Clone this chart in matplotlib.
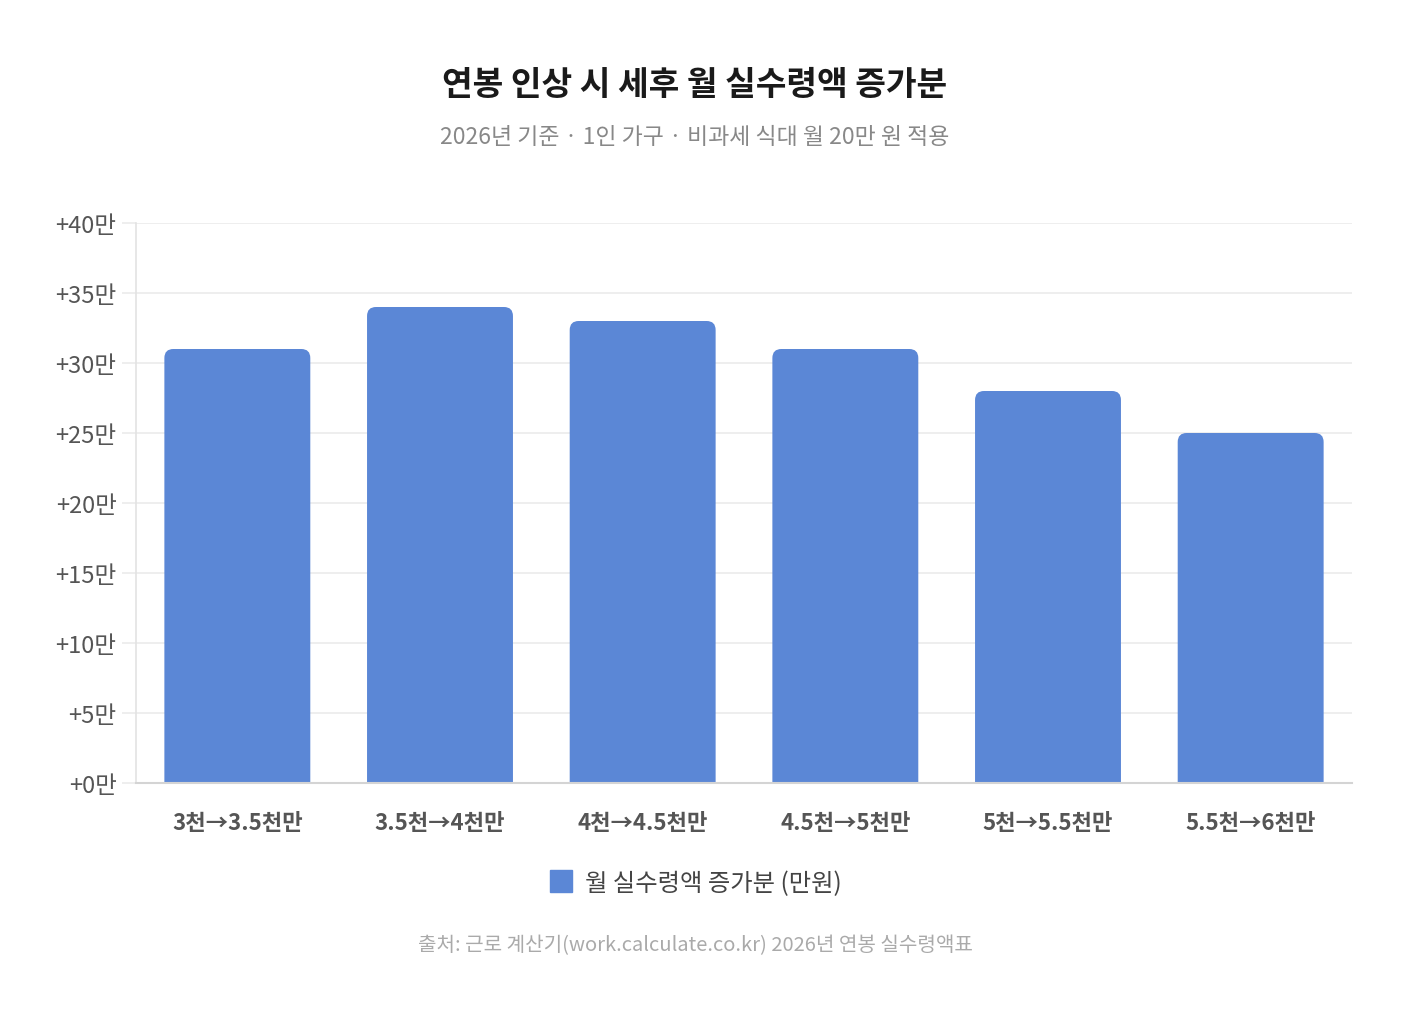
import matplotlib
matplotlib.use("Agg")
import matplotlib.pyplot as plt
from matplotlib.path import Path
from matplotlib.patches import PathPatch
from matplotlib.lines import Line2D
from matplotlib.transforms import IdentityTransform

plt.rcParams['font.family'] = ['Noto Sans CJK KR', 'DejaVu Sans']

categories = ["3천→3.5천만", "3.5천→4천만", "4천→4.5천만", "4.5천→5천만", "5천→5.5천만", "5.5천→6천만"]
values = [31, 34, 33, 31, 28, 25]
yticks = [0, 5, 10, 15, 20, 25, 30, 35, 40]
ytick_labels = [f"+{v}만" for v in yticks]
title = "연봉 인상 시 세후 월 실수령액 증가분"
subtitle = "2026년 기준 · 1인 가구 · 비과세 식대 월 20만 원 적용"
legend_label = "월 실수령액 증가분 (만원)"
source = "출처: 근로 계산기(work.calculate.co.kr) 2026년 연봉 실수령액표"

W, H = 1402, 1012
BAR = "#5b87d6"

fig = plt.figure(figsize=(W / 100, H / 100), dpi=100)
ax = fig.add_axes([136 / W, 1 - 784 / H, (1352 - 136) / W, (784 - 224) / H])
ax.set_xlim(-0.5, len(categories) - 0.5)
ax.set_ylim(0, 40)

bars = ax.bar(range(len(categories)), values, width=0.72, color=BAR, zorder=3)

ax.set_yticks(yticks)
ax.set_yticklabels(ytick_labels, fontsize=17, color="#555555")
ax.set_xticks(range(len(categories)))
ax.set_xticklabels(categories, fontsize=16, color="#555555", fontweight="bold")
ax.tick_params(axis="y", length=10, width=1.2, color="#ebebeb", pad=4)
ax.tick_params(axis="x", length=0, pad=20)
ax.grid(axis="y", color="#ebebeb", linewidth=1.2, zorder=0)
for s in ["top", "right"]:
    ax.spines[s].set_visible(False)
ax.spines["left"].set_color("#e3e3e3")
ax.spines["left"].set_linewidth(1.2)
ax.spines["bottom"].set_color("#d4d4d4")
ax.spines["bottom"].set_linewidth(1.5)
ax.spines["bottom"].set_zorder(4)

# rounded top corners in pixel space
fig.canvas.draw()
r = 9
for b in bars:
    x0, y0 = ax.transData.transform((b.get_x(), 0))
    x1, y1 = ax.transData.transform((b.get_x() + b.get_width(), b.get_height()))
    verts = [(x0, y0), (x0, y1 - r), (x0, y1), (x0 + r, y1),
             (x1 - r, y1), (x1, y1), (x1, y1 - r), (x1, y0), (x0, y0)]
    codes = [Path.MOVETO, Path.LINETO, Path.CURVE3, Path.CURVE3,
             Path.LINETO, Path.CURVE3, Path.CURVE3, Path.LINETO, Path.CLOSEPOLY]
    pp = PathPatch(Path(verts, codes), facecolor=BAR, edgecolor="none",
                   transform=IdentityTransform(), zorder=3)
    ax.add_artist(pp)
    b.set_visible(False)

fig.text(695 / W, 1 - 85 / H, title, ha="center", va="center",
         fontsize=24, fontweight="bold", color="#1a1a1a")
fig.text(695 / W, 1 - 137 / H, subtitle, ha="center", va="center",
         fontsize=16.5, color="#888888")

handle = Line2D([], [], marker="s", linestyle="none", markersize=16,
                markerfacecolor=BAR, markeredgecolor=BAR)
fig.legend([handle], [legend_label], loc="center", bbox_to_anchor=(695 / W, 1 - 884 / H),
           frameon=False, fontsize=17.5, labelcolor="#444444", handletextpad=0.5,
           handlelength=1.0)

fig.text(695 / W, 1 - 946 / H, source, ha="center", va="center",
         fontsize=14.5, color="#aaaaaa")

fig.savefig("out.png", dpi=100, facecolor="white")
